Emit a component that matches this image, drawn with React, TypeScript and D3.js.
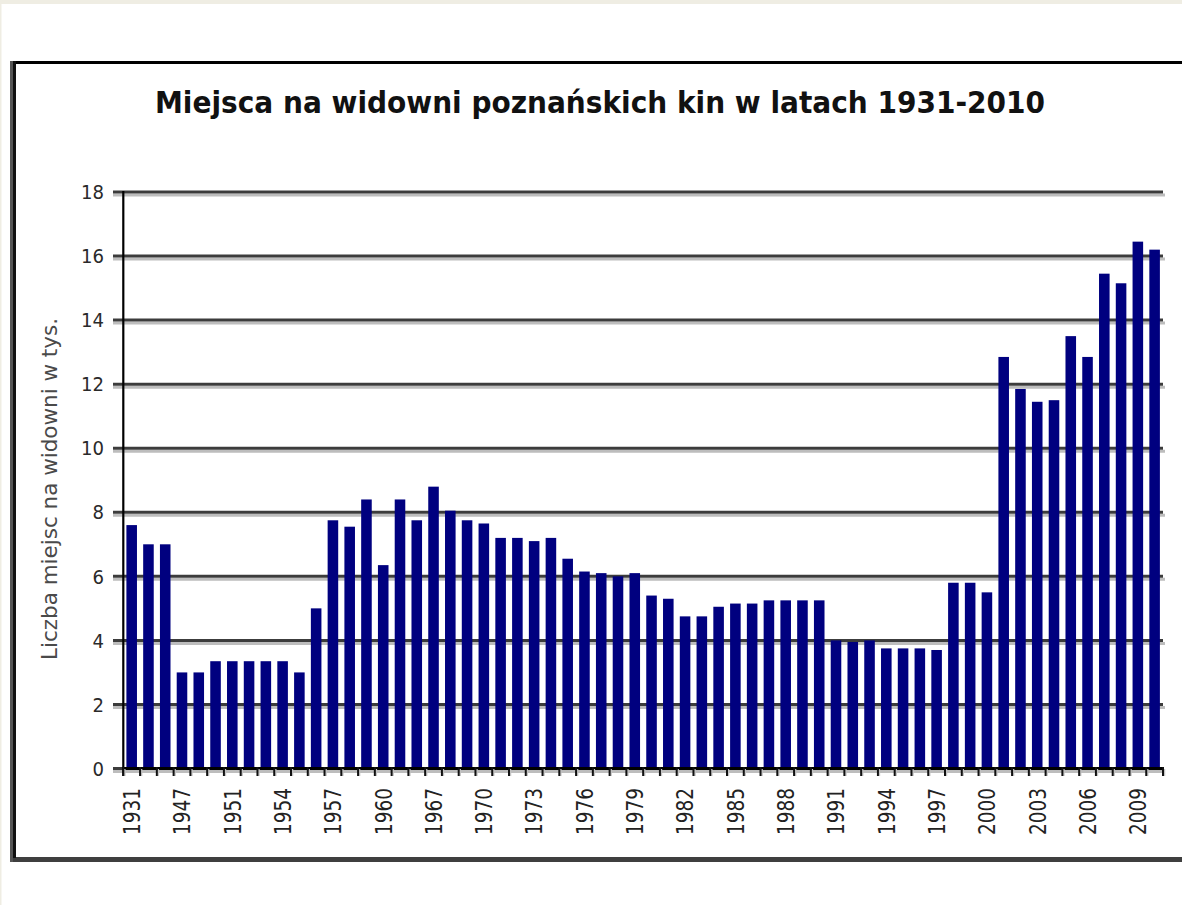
import * as d3 from "d3";

const years = [
  "1931", "1935", "1939", "1947", "1949", "1950", "1951", "1952", "1953", "1954",
  "1955", "1956", "1957", "1958", "1959", "1960", "1963", "1965", "1967", "1968",
  "1969", "1970", "1971", "1972", "1973", "1974", "1975", "1976", "1977", "1978",
  "1979", "1980", "1981", "1982", "1983", "1984", "1985", "1986", "1987", "1988",
  "1989", "1990", "1991", "1992", "1993", "1994", "1995", "1996", "1997", "1998",
  "1999", "2000", "2001", "2002", "2003", "2004", "2005", "2006", "2007", "2008",
  "2009", "2010",
];

// liczba miejsc w tys.
const seats = [
  7.6, 7.0, 7.0, 3.0, 3.0, 3.35, 3.35, 3.35, 3.35, 3.35,
  3.0, 5.0, 7.75, 7.55, 8.4, 6.35, 8.4, 7.75, 8.8, 8.05,
  7.75, 7.65, 7.2, 7.2, 7.1, 7.2, 6.55, 6.15, 6.1, 6.0,
  6.1, 5.4, 5.3, 4.75, 4.75, 5.05, 5.15, 5.15, 5.25, 5.25,
  5.25, 5.25, 4.0, 3.95, 4.0, 3.75, 3.75, 3.75, 3.7, 5.8,
  5.8, 5.5, 12.85, 11.85, 11.45, 11.5, 13.5, 12.85, 15.45, 15.15,
  16.45, 16.2,
];

const yTicks = [0, 2, 4, 6, 8, 10, 12, 14, 16, 18];

const title = "Miejsca na widowni poznańskich kin w latach 1931-2010";
const yTitle = "Liczba miejsc na widowni w tys.";

const W = 1182;
const H = 905;

export default function App() {
  const x = d3.scaleBand<string>().domain(years).range([123.3, 1163]).padding(0);
  const y = d3.scaleLinear().domain([0, 18]).range([768.5, 192]);
  const step = x.step();
  const barW = step * 0.63;
  const font = "'DejaVu Sans', Verdana, sans-serif";

  const bounds = years.map((d) => x(d) as number).concat([x.range()[1]]);

  return (
    <svg
      width={W}
      height={H}
      viewBox={`0 0 ${W} ${H}`}
      style={{ position: "absolute", left: 0, top: 0, display: "block" }}
    >
      <rect width={W} height={H} fill="#ffffff" />
      <rect width={W} height={4} fill="#efede3" />
      <rect width={1.5} height={H} fill="#efede3" />

      {/* ramka */}
      <rect x={10} y={61} width={W - 10} height={3} fill="#000" />
      <rect x={10} y={857} width={W - 10} height={5} fill="#3f3f3f" />
      <rect x={10} y={61} width={3} height={801} fill="#555" />
      <rect x={13} y={61} width={3} height={797} fill="#111" />

      <text
        x={600}
        y={113}
        textAnchor="middle"
        fontFamily={font}
        fontWeight="bold"
        fontSize={30}
        textLength={890}
        lengthAdjust="spacingAndGlyphs"
        fill="#111"
      >
        {title}
      </text>

      {/* siatka */}
      {yTicks.map((t) => (
        <g key={t}>
          <line x1={113} x2={1165} y1={y(t) + 3} y2={y(t) + 3} stroke="#bdbdbd" strokeWidth={3} />
          <line x1={113} x2={1163} y1={y(t)} y2={y(t)} stroke="#3c3c3c" strokeWidth={3} />
          <text
            x={104}
            y={y(t)}
            dy="0.36em"
            textAnchor="end"
            fontFamily={font}
            fontSize={20}
            textLength={t >= 10 ? 23 : 11.5}
            lengthAdjust="spacingAndGlyphs"
            fill="#2a2a2a"
          >
            {t}
          </text>
        </g>
      ))}

      {/* słupki */}
      {years.map((d, i) => {
        const cx = (x(d) as number) + step / 2;
        return (
          <rect
            key={d}
            x={cx - barW / 2}
            y={y(seats[i])}
            width={barW}
            height={y(0) - y(seats[i])}
            fill="#00007f"
          />
        );
      })}

      {/* oś Y */}
      <line x1={123.3} x2={123.3} y1={191} y2={776} stroke="#000" strokeWidth={2.2} />

      {/* oś X */}
      <line x1={123.3} x2={1163} y1={y(0)} y2={y(0)} stroke="#000" strokeWidth={3} />
      {bounds.map((b, i) => (
        <g key={i}>
          <line x1={b + 1.5} x2={b + 1.5} y1={769} y2={776} stroke="#c4c4c4" strokeWidth={1.5} />
          <line x1={b} x2={b} y1={767} y2={776} stroke="#111" strokeWidth={2} />
        </g>
      ))}
      {years.map((d, i) =>
        i % 3 === 0 ? (
          <text
            key={d}
            transform={`translate(${(x(d) as number) + step / 2},${788}) rotate(-90)`}
            dy="0.36em"
            textAnchor="end"
            fontFamily={font}
            fontSize={23}
            textLength={47}
            lengthAdjust="spacingAndGlyphs"
            fill="#222"
          >
            {d}
          </text>
        ) : null
      )}

      <text
        transform={`translate(49,489) rotate(-90)`}
        dy="0.36em"
        textAnchor="middle"
        fontFamily={font}
        fontSize={21}
        textLength={342}
        lengthAdjust="spacingAndGlyphs"
        fill="#4a4a4a"
      >
        {yTitle}
      </text>
    </svg>
  );
}
